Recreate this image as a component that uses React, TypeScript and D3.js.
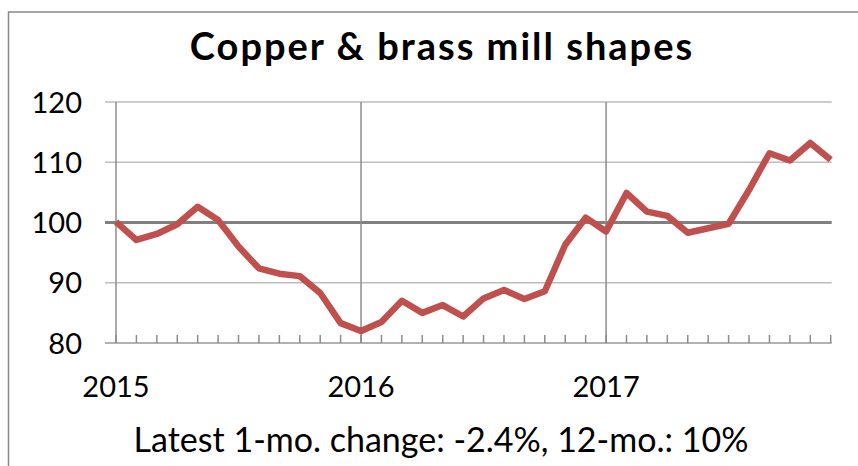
import React from "react";
import * as d3 from "d3";

const months: string[] = [
  "2015-01","2015-02","2015-03","2015-04","2015-05","2015-06","2015-07","2015-08","2015-09","2015-10","2015-11","2015-12",
  "2016-01","2016-02","2016-03","2016-04","2016-05","2016-06","2016-07","2016-08","2016-09","2016-10","2016-11","2016-12",
  "2017-01","2017-02","2017-03","2017-04","2017-05","2017-06","2017-07","2017-08","2017-09","2017-10","2017-11","2017-12",
];
const values: number[] = [
  100.1, 97.1, 98.1, 99.7, 102.6, 100.4, 96.0, 92.4, 91.5, 91.1, 88.3, 83.3,
  82.0, 83.5, 87.0, 85.0, 86.3, 84.4, 87.4, 88.8, 87.3, 88.6, 96.3, 100.8,
  98.5, 104.9, 101.8, 101.1, 98.3, 99.05, 99.8, 105.4, 111.5, 110.3, 113.2, 110.4,
];
const yTicks: number[] = [80, 90, 100, 110, 120];
const yearLabels: string[] = ["2015", "2016", "2017"];
const title = "Copper & brass mill shapes";
const footer = "Latest 1-mo. change: -2.4%, 12-mo.: 10%";

const W = 858;
const H = 466;
const FONT = "Lato, 'Open Sans', sans-serif";

export default function App() {
  const x = d3.scaleLinear().domain([0, months.length - 1]).range([116, 830.7]);
  const y = d3.scaleLinear().domain([80, 120]).range([343, 102]);
  const line = d3
    .line<number>()
    .x((_, i) => x(i))
    .y((d) => y(d));
  const left = x(0);
  const right = x(months.length - 1) + 1;

  return (
    <svg
      width={W}
      height={H}
      style={{ position: "absolute", left: 0, top: 0, background: "#fff" }}
    >
      <rect x={8.5} y={12} width={W + 10} height={H + 10} fill="#fff" stroke="#888" strokeWidth={1.5} />
      <text x={442} y={60} textAnchor="middle" fontFamily={FONT} fontWeight="bold" fontSize={38} letterSpacing={2} fill="#000">
        {title}
      </text>
      {/* horizontal gridlines */}
      {yTicks.map((t) => (
        <line
          key={"g" + t}
          x1={left - 11}
          x2={right}
          y1={y(t)}
          y2={y(t)}
          stroke={t === 100 ? "#808080" : t === 80 ? "#999" : "#bdbdbd"}
          strokeWidth={t === 100 ? 3 : 1.5}
        />
      ))}
      {/* vertical year lines */}
      {yearLabels.map((_, k) => (
        <line
          key={"v" + k}
          x1={x(k * 12)}
          x2={x(k * 12)}
          y1={y(120)}
          y2={y(80)}
          stroke="#8c8c8c"
          strokeWidth={1.5}
        />
      ))}
      {/* month ticks */}
      {months.map((m, i) => (
        <line key={"t" + m} x1={x(i)} x2={x(i)} y1={y(80)} y2={y(80) - 8} stroke="#8c8c8c" strokeWidth={1.5} />
      ))}
      {/* y labels */}
      {yTicks.map((t) => (
        <text key={"l" + t} x={82} y={y(t) + 10.5} textAnchor="end" fontFamily={FONT} fontSize={29} fill="#000">
          {t}
        </text>
      ))}
      {/* x labels */}
      {yearLabels.map((lab, k) => (
        <text key={"x" + lab} x={x(k * 12)} y={397} textAnchor="middle" fontFamily={FONT} fontSize={29} fill="#000">
          {lab}
        </text>
      ))}
      <path d={line(values) || ""} fill="none" stroke="#c0504d" strokeWidth={6.5} strokeLinejoin="round" />
      <text x={441} y={452} textAnchor="middle" fontFamily={FONT} fontSize={34} fill="#000">
        {footer}
      </text>
    </svg>
  );
}
